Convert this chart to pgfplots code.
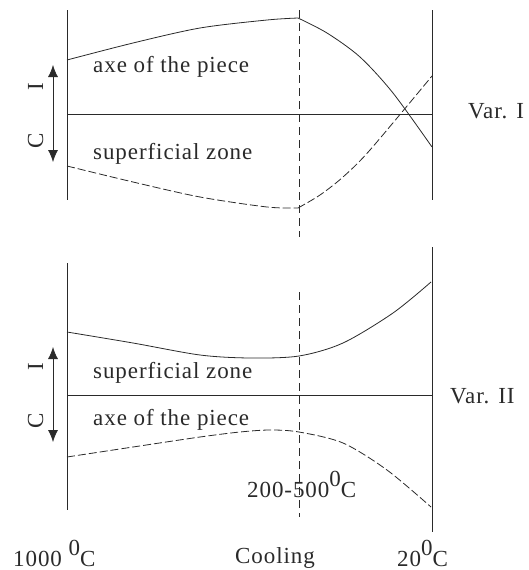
\documentclass[border=0pt]{standalone}
\usepackage{pgfplots}
\pgfplotsset{compat=1.18}
\usepackage{fontspec}
\setmainfont{Liberation Serif}[LetterSpace=4]
\usetikzlibrary{arrows.meta}
\definecolor{ink}{HTML}{2A2A2A}
\newcommand{\supz}{\raisebox{11pt}{0}}
\tikzset{lbl/.style={font=\fontsize{23}{26}\selectfont, text=ink, inner sep=0pt}}
\begin{document}
\begin{tikzpicture}
\useasboundingbox (0,0) rectangle (529pt,570pt);
\begin{axis}[
  scale only axis, width=529pt, height=570pt,
  xmin=0, xmax=529, ymin=0, ymax=570, y dir=reverse,
  hide axis, clip=false,
]
\pgfplotsset{ln/.style={ink, line width=0.8pt, no markers}}
% frame lines, top panel
\addplot[ln] coordinates {(67,10) (67,200)};
\addplot[ln] coordinates {(432,10) (432,200)};
\addplot[ln] coordinates {(67,114) (432,114)};
% frame lines, bottom panel
\addplot[ln] coordinates {(67,263) (67,510)};
\addplot[ln] coordinates {(432,247) (432,532)};
\addplot[ln] coordinates {(67,395) (432,395)};
% dashed vertical
\addplot[ln, dash pattern=on 8pt off 5pt] coordinates {(299,10) (299,237)};
\addplot[ln, dash pattern=on 8pt off 5pt] coordinates {(299,292) (299,517)};
% top solid
\addplot[ln, smooth, tension=0.5] coordinates {(67,60) (133,43) (200,28) (267,20) (298,18)};
\addplot[ln, smooth, tension=0.5] coordinates {(298,18) (327,33) (360,57) (393,93) (432,147)};
% top dashed
\addplot[ln, smooth, tension=0.5, dash pattern=on 8pt off 3pt] coordinates {(67,166) (133,182) (200,197) (267,207) (298,208)};
\addplot[ln, smooth, tension=0.5, dash pattern=on 8pt off 3pt] coordinates {(298,208) (320,195) (343,177) (370,150) (432,76)};
% bottom solid
\addplot[ln, smooth, tension=0.5] coordinates {(67,332) (133,343) (200,355) (250,358) (299,356) (343,343) (393,313) (431,282)};
% bottom dashed
\addplot[ln, smooth, tension=0.5, dash pattern=on 8pt off 3pt] coordinates {(67,457) (133,447) (200,437) (240,432) (270,430) (299,432) (343,443) (387,470) (431,507)};
% arrows
\addplot[ln, {Latex[length=12pt,width=10pt]}-{Latex[length=12pt,width=10pt]}] coordinates {(53,65) (53,162)};
\addplot[ln, {Latex[length=12pt,width=10pt]}-{Latex[length=12pt,width=10pt]}] coordinates {(53,347) (53,442)};
% texts
\node[lbl, anchor=base west] at (axis cs:93,72) {axe of the piece};
\node[lbl, anchor=base west] at (axis cs:93,159) {superficial zone};
\node[lbl, anchor=base west] at (axis cs:93,378) {superficial zone};
\node[lbl, anchor=base west] at (axis cs:93,425) {axe of the piece};
\node[lbl, anchor=base west] at (axis cs:468,118) {Var. I};
\node[lbl, anchor=base west] at (axis cs:450,403) {Var. II};
\node[lbl, rotate=90, anchor=base] at (axis cs:43,87) {I};
\node[lbl, rotate=90, anchor=base] at (axis cs:43,141) {C};
\node[lbl, rotate=90, anchor=base] at (axis cs:43,367) {I};
\node[lbl, rotate=90, anchor=base] at (axis cs:43,421) {C};
\node[lbl, anchor=base west] at (axis cs:13,566) {1000 \supz C};
\node[lbl, anchor=base] at (axis cs:275,563) {Cooling};
\node[lbl, anchor=base west] at (axis cs:397,566) {20\supz C};
\node[lbl, anchor=base west] at (axis cs:247,497) {200-500\supz C};
\end{axis}
\end{tikzpicture}
\end{document}
